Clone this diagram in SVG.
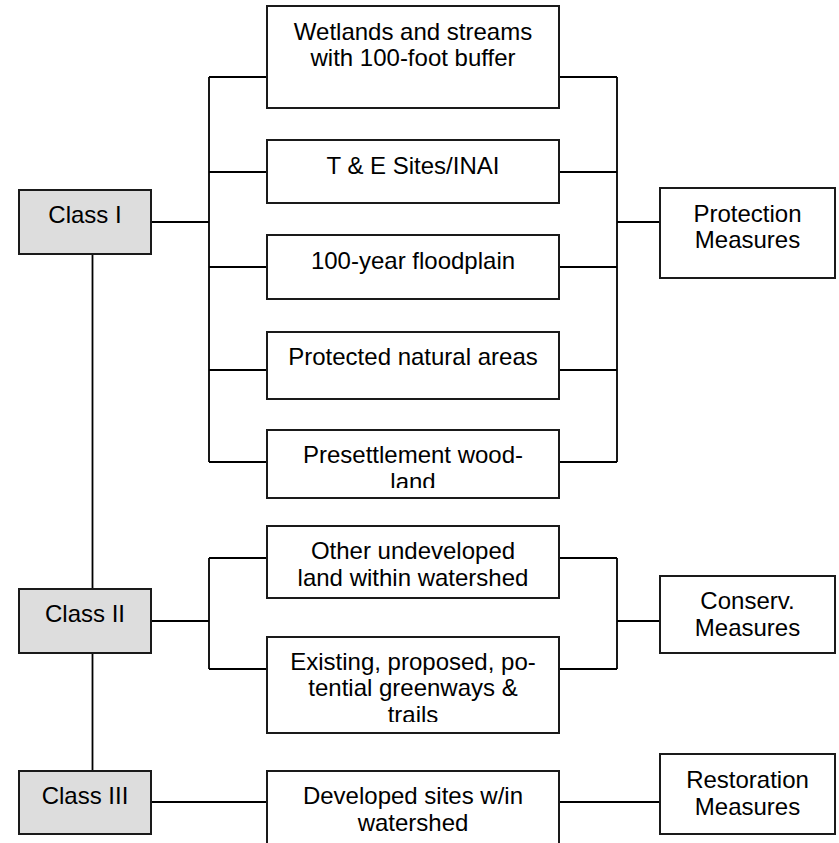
<svg xmlns="http://www.w3.org/2000/svg" width="839" height="843" viewBox="0 0 839 843">
<style>
.box{fill:#fff;stroke:#1a1a1a;stroke-width:2}
.cls{fill:#dddddd;stroke:#1a1a1a;stroke-width:2}
.t{font-family:"Liberation Sans",Arial,sans-serif;font-size:24px;fill:#000;text-anchor:middle}
.c{fill:none;stroke:#000;stroke-width:1.8}
</style>
<defs>
<clipPath id="clipPre"><rect x="267" y="430" width="292" height="58"/></clipPath>
<clipPath id="clipExi"><rect x="267" y="637" width="292" height="85"/></clipPath>
</defs>
<rect width="839" height="843" fill="#fff"/>
<g id="connectors">
<path class="c" d="M151,222H209M209,77V462M209,77H267M209,172H267M209,267H267M209,370H267M209,462H267"/>
<path class="c" d="M559,77H617M559,172H617M559,267H617M559,370H617M559,462H617M617,77V462M617,222H660"/>
<path class="c" d="M92.5,254V589M92.5,653V771"/>
<path class="c" d="M151,621H209M209,558V669M209,558H267M209,669H267"/>
<path class="c" d="M559,558H617M559,669H617M617,558V669M617,621H660"/>
<path class="c" d="M151,802H267M559,802H660"/>
</g>
<g id="class1"><rect class="cls" x="19" y="190" width="132" height="64"/><text class="t" x="85" y="223">Class I</text></g>
<g id="class2"><rect class="cls" x="19" y="589" width="132" height="64"/><text class="t" x="85" y="622">Class II</text></g>
<g id="class3"><rect class="cls" x="19" y="771" width="132" height="63"/><text class="t" x="85" y="804">Class III</text></g>
<g id="wetlands"><rect class="box" x="267" y="6" width="292" height="102"/><text class="t" x="413" y="39.5">Wetlands and streams</text><text class="t" x="413" y="66">with 100-foot buffer</text></g>
<g id="te"><rect class="box" x="267" y="140" width="292" height="63"/><text class="t" x="413" y="173.5">T &amp; E Sites/INAI</text></g>
<g id="floodplain"><rect class="box" x="267" y="235" width="292" height="64"/><text class="t" x="413" y="268.5">100-year floodplain</text></g>
<g id="protected"><rect class="box" x="267" y="332" width="292" height="67"/><text class="t" x="413" y="365">Protected natural areas</text></g>
<g id="presettlement"><rect class="box" x="267" y="430" width="292" height="68"/><g clip-path="url(#clipPre)"><text class="t" x="413" y="463">Presettlement wood-</text><text class="t" x="413" y="489.5">land</text></g></g>
<g id="other"><rect class="box" x="267" y="526" width="292" height="72"/><text class="t" x="413" y="559">Other undeveloped</text><text class="t" x="413" y="585.5">land within watershed</text></g>
<g id="existing"><rect class="box" x="267" y="637" width="292" height="96"/><g clip-path="url(#clipExi)"><text class="t" x="413" y="669.5">Existing, proposed, po-</text><text class="t" x="413" y="696">tential greenways &amp;</text><text class="t" x="413" y="723">trails</text></g></g>
<g id="developed"><rect class="box" x="267" y="771" width="292" height="90"/><text class="t" x="413" y="804">Developed sites w/in</text><text class="t" x="413" y="830.5">watershed</text></g>
<g id="protection"><rect class="box" x="660" y="188" width="175" height="90"/><text class="t" x="747.5" y="221.5">Protection</text><text class="t" x="747.5" y="248">Measures</text></g>
<g id="conserv"><rect class="box" x="660" y="576" width="175" height="77"/><text class="t" x="747.5" y="609">Conserv.</text><text class="t" x="747.5" y="635.5">Measures</text></g>
<g id="restoration"><rect class="box" x="660" y="754" width="175" height="80"/><text class="t" x="747.5" y="788">Restoration</text><text class="t" x="747.5" y="814.5">Measures</text></g>
</svg>
